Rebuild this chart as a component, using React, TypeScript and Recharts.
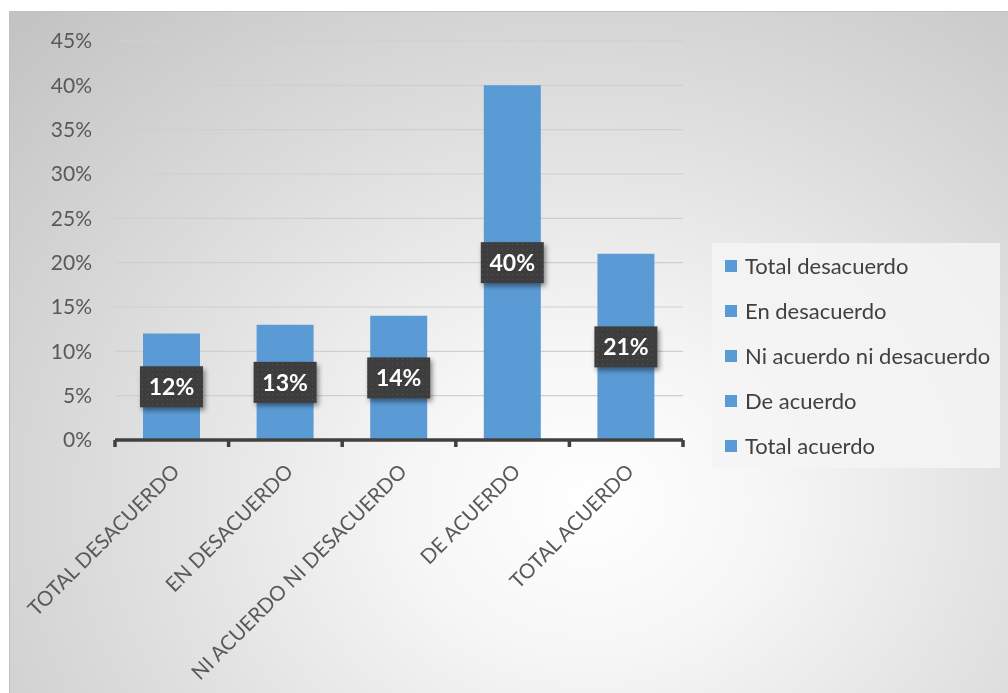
import React from 'react';
import { BarChart, Bar, XAxis, YAxis, CartesianGrid, Legend, LabelList } from 'recharts';

const categories = ['TOTAL DESACUERDO', 'EN DESACUERDO', 'NI ACUERDO NI DESACUERDO', 'DE ACUERDO', 'TOTAL ACUERDO'];
const legendLabels = ['Total desacuerdo', 'En desacuerdo', 'Ni acuerdo ni desacuerdo', 'De acuerdo', 'Total acuerdo'];
const values = [0.12, 0.13, 0.14, 0.40, 0.21];
const yTicks = [0, 0.05, 0.1, 0.15, 0.2, 0.25, 0.3, 0.35, 0.4, 0.45];

const data = categories.map((c, i) => ({ name: c, value: values[i] }));

const FONT = 'Lato, "Noto Sans", sans-serif';
const BAR_COLOR = '#5b9bd5';
const CHART_W = 998;
const CHART_H = 681;
const MARGIN = { top: 29, right: 325, bottom: 53, left: 0 };
const Y_W = 105;
const BAND = (CHART_W - MARGIN.right - Y_W) / categories.length;

const pct = (v: number) => `${Math.round(v * 100)}%`;

const XTick = (props: any) => {
  const { x, y, payload, index } = props;
  const left = x - BAND / 2;
  const isLast = index === categories.length - 1;
  return (
    <g>
      <line x1={left} x2={left} y1={y} y2={y + 7} stroke="#404040" strokeWidth={3.5} />
      {isLast && <line x1={x + BAND / 2} x2={x + BAND / 2} y1={y} y2={y + 7} stroke="#404040" strokeWidth={3.5} />}
      <g transform={`translate(${x + 9},${y + 33})`}>
        <text transform="rotate(-45)" textAnchor="end" fill="#595959" fontSize={20.5} fontFamily={FONT}>
          {payload.value}
        </text>
      </g>
    </g>
  );
};

const DataLabel = (props: any) => {
  const { x, y, width, height, value } = props;
  const cx = x + width / 2;
  const cy = y + height / 2;
  const bw = 63;
  const bh = 41;
  return (
    <g>
      <rect x={cx - bw / 2} y={cy - bh / 2} width={bw} height={bh} fill="url(#dotPattern)" filter="url(#lblShadow)" />
      <text x={cx} y={cy} dy="0.36em" textAnchor="middle" fill="#ffffff" fontSize={23} fontWeight="bold" fontFamily={FONT}>
        {pct(value)}
      </text>
    </g>
  );
};

const LegendContent = () => (
  <div
    style={{
      width: 288,
      height: 225,
      background: 'rgba(245,245,245,0.85)',
      fontFamily: FONT,
      fontSize: 22,
      color: '#404040',
      boxSizing: 'border-box',
    }}
  >
    {legendLabels.map((l) => (
      <div key={l} style={{ height: 45, display: 'flex', alignItems: 'center', paddingLeft: 13 }}>
        <span style={{ display: 'inline-block', width: 12, height: 12, background: BAR_COLOR, marginRight: 8 }} />
        <span style={{ whiteSpace: 'nowrap' }}>{l}</span>
      </div>
    ))}
  </div>
);

export default function App() {
  return (
    <div
      style={{
        position: 'fixed',
        left: 9,
        top: 11,
        width: 999,
        height: 682,
        boxSizing: 'border-box',
        borderTop: '1px solid #c0c0c0',
        borderLeft: '1px solid #c0c0c0',
        background: 'radial-gradient(ellipse at 58% 72%, #ffffff 0%, #f6f6f6 22%, #dcdcdc 60%, #c2c2c2 100%)',
        overflow: 'hidden',
      }}
    >
      <BarChart width={CHART_W} height={CHART_H} data={data} margin={MARGIN} barSize={57}>
        <defs>
          <pattern id="dotPattern" width="5" height="5" patternUnits="userSpaceOnUse">
            <rect width="5" height="5" fill="#3d3d3d" />
            <rect x="2" y="2" width="1" height="1" fill="#575757" />
          </pattern>
          <filter id="lblShadow" x="-20%" y="-20%" width="150%" height="160%">
            <feDropShadow dx="2" dy="3" stdDeviation="2.5" floodColor="#000" floodOpacity="0.45" />
          </filter>
        </defs>
        <CartesianGrid vertical={false} stroke="#cfcfcf" strokeWidth={1.2} />
        <YAxis
          width={Y_W}
          domain={[0, 0.45]}
          ticks={yTicks}
          tickFormatter={pct}
          axisLine={false}
          tickLine={false}
          tickSize={0}
          tickMargin={23}
          tick={{ fill: '#595959', fontSize: 21, fontFamily: FONT }}
          interval={0}
        />
        <XAxis
          dataKey="name"
          height={200}
          interval={0}
          tickLine={false}
          tickSize={0}
          tickMargin={0}
          axisLine={{ stroke: '#404040', strokeWidth: 3.5 }}
          tick={<XTick />}
        />
        <Legend
          layout="vertical"
          align="center"
          verticalAlign="middle"
          wrapperStyle={{ left: 702, top: 231, width: 288, height: 225 }}
          content={<LegendContent />}
        />
        <Bar dataKey="value" fill={BAR_COLOR} isAnimationActive={false}>
          <LabelList dataKey="value" content={<DataLabel />} />
        </Bar>
      </BarChart>
    </div>
  );
}
